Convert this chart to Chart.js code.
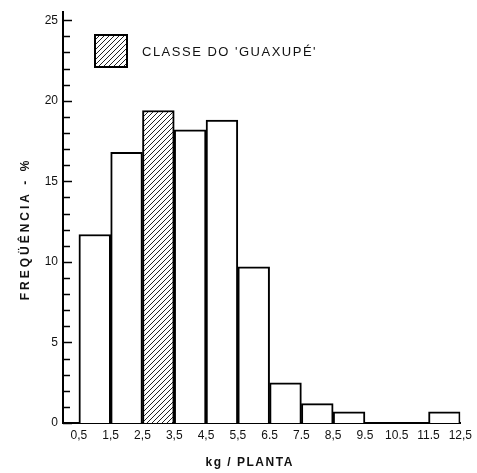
<!DOCTYPE html>
<html>
<head>
<meta charset="utf-8">
<script src="https://cdn.jsdelivr.net/npm/chart.js@4.4.1/dist/chart.umd.min.js"></script>
<style>
  html, body { margin: 0; padding: 0; background: #fff; }
  #wrap { width: 477px; height: 473px; }
</style>
</head>
<body>
<div id="wrap"><canvas id="myChart" width="477" height="473"></canvas></div>
<script>
// class centres (kg/planta) and frequency (%)
const classCenters = [1, 2, 3, 4, 5, 6, 7, 8, 9, 10, 11, 12]
const frequencies = [11.7, 16.8, 19.4, 18.2, 18.8, 9.7, 2.5, 1.2, 0.7, 0, 0, 0.7]
const highlightIndex = 2 // classe do 'Guaxupé'

const xTickValues = [0.5, 1.5, 2.5, 3.5, 4.5, 5.5, 6.5, 7.5, 8.5, 9.5, 10.5, 11.5, 12.5]
const xTickLabels = ['0,5', '1,5', '2,5', '3,5', '4,5', '5,5', '6.5', '7.5', '8,5', '9.5', '10.5', '11.5', '12,5']
const yTickLabels = [0, 5, 10, 15, 20, 25]

const legendText = "CLASSE DO 'GUAXUPÉ'"
const yTitle = 'FREQÜÊNCIA - %'
const xTitle = 'kg / PLANTA'

const fontFamily = "'Liberation Sans', Arial, sans-serif"

// diagonal hatch for the highlighted class
function makeHatch() {
  const size = 5
  const c = document.createElement('canvas')
  c.width = size
  c.height = size
  const g = c.getContext('2d')
  g.fillStyle = '#fff'
  g.fillRect(0, 0, size, size)
  g.strokeStyle = '#222'
  g.lineWidth = 1
  g.beginPath()
  g.moveTo(0, size)
  g.lineTo(size, 0)
  g.moveTo(-1, 1)
  g.lineTo(1, -1)
  g.moveTo(size - 1, size + 1)
  g.lineTo(size + 1, size - 1)
  g.stroke()
  return g.createPattern(c, 'repeat')
}

const hatch = makeHatch()
const barColors = frequencies.map((v, i) => i === highlightIndex ? hatch : '#fff')

const extrasPlugin = {
  id: 'extras',
  afterDraw: function(chart) {
    const ctx = chart.ctx
    const area = chart.chartArea
    const yScale = chart.scales.y

    ctx.save()
    // inward tick marks on the y axis
    ctx.strokeStyle = '#000'
    ctx.lineWidth = 1.5
    yScale.ticks.forEach(t => {
      const py = Math.round(yScale.getPixelForValue(t.value)) + 0.5
      const len = t.value % 5 === 0 ? 9 : 7
      ctx.beginPath()
      ctx.moveTo(area.left, py)
      ctx.lineTo(area.left + len, py)
      ctx.stroke()
    })

    // legend box + text
    ctx.fillStyle = hatch
    ctx.fillRect(95, 35, 32, 32)
    ctx.lineWidth = 2
    ctx.strokeRect(95, 35, 32, 32)
    ctx.fillStyle = '#111'
    ctx.font = '13px ' + fontFamily
    ctx.letterSpacing = '1.5px'
    ctx.textAlign = 'left'
    ctx.textBaseline = 'middle'
    ctx.fillText(legendText, 142, 52)

    // axis titles
    ctx.font = 'bold 12px ' + fontFamily
    ctx.letterSpacing = '3px'
    ctx.textAlign = 'center'
    ctx.save()
    ctx.translate(26, 229)
    ctx.rotate(-Math.PI / 2)
    ctx.fillText(yTitle, 0, 0)
    ctx.restore()

    ctx.letterSpacing = '1.5px'
    ctx.fillText(xTitle, (area.left + area.right) / 2 - 12, 463)
    ctx.restore()
  }
}

const ctx = document.getElementById('myChart')
const myChart = new Chart(ctx, {
  type: 'bar',
  data: {
    datasets: [{
      data: classCenters.map((x, i) => ({ x: x, y: frequencies[i] })),
      backgroundColor: barColors,
      borderColor: '#000',
      borderWidth: 2,
      borderSkipped: 'bottom',
      barPercentage: 1,
      categoryPercentage: 1
    }]
  },
  options: {
    responsive: false,
    animation: false,
    devicePixelRatio: 1,
    layout: { padding: { top: 10, right: 11, left: 0, bottom: 0 } },
    plugins: {
      legend: { display: false },
      tooltip: { enabled: false }
    },
    scales: {
      x: {
        type: 'linear',
        min: 0,
        max: 12.5,
        offset: false,
        afterBuildTicks: (axis) => {
          axis.ticks = xTickValues.map(v => ({ value: v }))
        },
        afterFit: (axis) => { axis.height = 50 },
        grid: { display: false, drawTicks: false },
        border: { display: true, color: '#000', width: 2 },
        ticks: {
          autoSkip: false,
          maxRotation: 0,
          padding: 5,
          color: '#111',
          font: { family: fontFamily, size: 12 },
          callback: (value, index) => xTickLabels[index]
        }
      },
      y: {
        min: 0,
        max: 25.5,
        afterBuildTicks: (axis) => {
          const list = []
          for (let v = 0; v <= 25; v++) list.push({ value: v })
          axis.ticks = list
        },
        afterFit: (axis) => { axis.width = 63 },
        grid: { display: false, drawTicks: false },
        border: { display: true, color: '#000', width: 2 },
        ticks: {
          autoSkip: false,
          padding: 5,
          color: '#111',
          font: { family: fontFamily, size: 12 },
          callback: (value) => yTickLabels.includes(value) ? String(value) : ''
        }
      }
    }
  },
  plugins: [extrasPlugin]
})
</script>
</body>
</html>
